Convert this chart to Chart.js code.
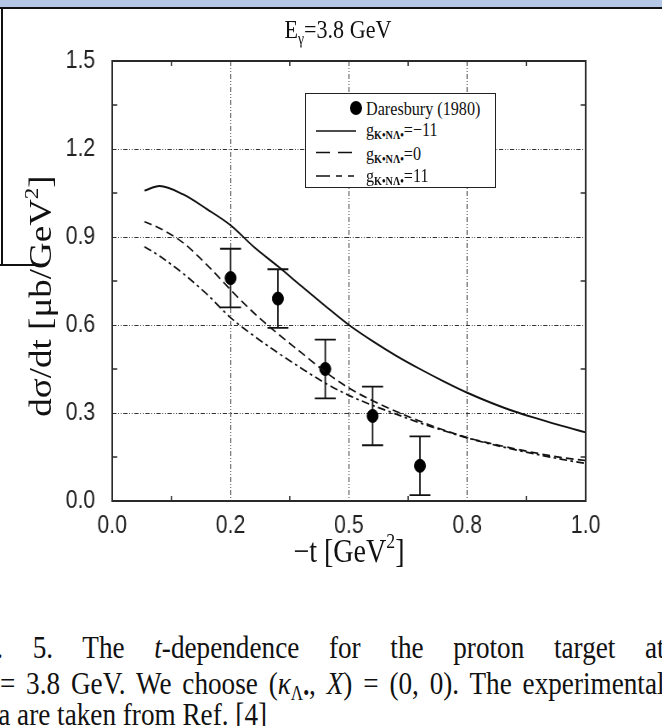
<!DOCTYPE html>
<html>
<head>
<meta charset="utf-8">
<script src="https://cdn.jsdelivr.net/npm/chart.js@4.4.1/dist/chart.umd.min.js"></script>
<style>
  html, body { margin: 0; padding: 0; background: #fff; }
  #page { position: relative; width: 662px; height: 726px; overflow: hidden; background: #fff;
          font-family: "Liberation Serif", "Times New Roman", serif; color: #111; }
  /* the original figure is squeezed horizontally, so the whole canvas is too */
  #chartBox { position: absolute; left: 0; top: 0; width: 662px; height: 590px; overflow: hidden; }
  #xsecChart { transform: scaleX(0.85); transform-origin: 0 0; }
  .abs { position: absolute; white-space: nowrap; }
  .sq { transform: translate(-50%, -50%) scaleX(0.85); }
  #band { position: absolute; left: 0; top: 0; width: 662px; height: 7px; background: #b4c7e7; border-bottom: 2px solid #111; }
  #frameL { position: absolute; left: 1px; top: 8px; width: 2px; height: 257px; background: #111; }
  #frameB { position: absolute; left: 0; top: 264px; width: 42px; height: 2px; background: #111; }
  #legend { position: absolute; left: 305px; top: 93px; width: 191px; height: 95px; border: 1.5px solid #222; background: #fff; box-sizing: border-box; }
  .lg { position: absolute; font-size: 19px; line-height: 19px; white-space: nowrap; transform: scaleX(0.85); transform-origin: 0 50%; }
  .lg sub { font-size: 12px; vertical-align: -3px; font-weight: bold; }
  .cap { position: absolute; font-size: 32px; line-height: 34px; white-space: nowrap; transform: scaleX(0.85); transform-origin: 0 0; }
  .just { text-align: justify; text-align-last: justify; white-space: normal; }
</style>
</head>
<body>
<div id="page">
  <div id="chartBox"><canvas id="xsecChart" width="779" height="590"></canvas></div>

  <div id="band"></div>
  <div id="frameL"></div>
  <div id="frameB"></div>

  <!-- title & axis titles -->
  <div class="abs sq" style="left:338px; top:31px; font-size:26px;">E<sub style="font-size:16px; vertical-align:-6px;">γ</sub>=3.8 GeV</div>
  <div class="abs" style="left:40px; top:296px; font-size:37px; transform: translate(-50%, -50%) scaleX(0.85) rotate(-90deg);">dσ/dt [μb/GeV<sup style="font-size:23px; vertical-align: 15px;">2</sup>]</div>
  <div class="abs sq" style="left:349px; top:549px; font-size:33px;">−t [GeV<sup style="font-size:21px; vertical-align: 14px;">2</sup>]</div>

  <!-- legend -->
  <div id="legend">
    <svg width="191" height="95" style="position:absolute; left:0; top:0;">
      <ellipse cx="50" cy="14" rx="6" ry="7" fill="#000"></ellipse>
      <line x1="10" y1="37" x2="50" y2="37" stroke="#111" stroke-width="1.6"></line>
      <line x1="10" y1="58.5" x2="50" y2="58.5" stroke="#111" stroke-width="1.6" stroke-dasharray="14 8"></line>
      <line x1="10" y1="82" x2="50" y2="82" stroke="#111" stroke-width="1.6" stroke-dasharray="14 6 6 6 6"></line>
    </svg>
    <div class="lg" style="left:60px; top:5px;">Daresbury (1980)</div>
    <div class="lg" style="left:60px; top:26px;">g<sub>K•NΛ•</sub>=−11</div>
    <div class="lg" style="left:60px; top:50px;">g<sub>K•NΛ•</sub>=0</div>
    <div class="lg" style="left:60px; top:72px;">g<sub>K•NΛ•</sub>=11</div>
  </div>

  <!-- caption (cut off at the page edges like the reference) -->
  <div class="cap just" style="left:-40px; top:630px; width:829px;">Fig. 5. The <i>t</i>-dependence for the proton target at</div>
  <div class="cap just" style="left:-35px; top:666px; width:823px;">E<sub style="font-size:20px; vertical-align:-6px;">γ</sub> = 3.8 GeV. We choose (<i>κ</i><sub style="font-size:20px; vertical-align:-6px;">Λ•</sub>, <i>X</i>) = (0, 0). The experimental</div>
  <div class="cap" style="left:-35px; top:697px;">data are taken from Ref. [4]</div>
</div>

<script>
// theory curves: -t [GeV^2] vs dsigma/dt [mub/GeV^2]
const T_CURVE     = [0.068, 0.10, 0.15, 0.20, 0.25, 0.30, 0.35, 0.40, 0.45, 0.50, 0.55, 0.60, 0.65, 0.70, 0.75, 0.80, 0.85, 0.90, 0.95, 1.00];
const SIG_MINUS11 = [1.058, 1.074, 1.045, 0.995, 0.940, 0.865, 0.800, 0.732, 0.665, 0.600, 0.545, 0.495, 0.450, 0.408, 0.369, 0.335, 0.305, 0.280, 0.256, 0.234];
const SIG_ZERO    = [0.952, 0.930, 0.880, 0.805, 0.720, 0.640, 0.570, 0.505, 0.440, 0.385, 0.342, 0.305, 0.272, 0.242, 0.216, 0.196, 0.178, 0.162, 0.148, 0.138];
const SIG_PLUS11  = [0.867, 0.835, 0.775, 0.705, 0.625, 0.562, 0.505, 0.452, 0.402, 0.360, 0.326, 0.296, 0.266, 0.240, 0.215, 0.194, 0.175, 0.158, 0.142, 0.128];

// Daresbury (1980) data
const T_DATA   = [0.25, 0.35, 0.45, 0.55, 0.65];
const SIG_DATA = [0.76, 0.69, 0.45, 0.29, 0.12];
const SIG_ERR  = [0.10, 0.10, 0.10, 0.10, 0.10];

// tick labels (as printed on the original figure)
const X_TICKS = [0, 0.25, 0.5, 0.75, 1.0];
const X_TICK_LABELS = ['0.0', '0.2', '0.5', '0.8', '1.0'];
const Y_TICKS = [0, 0.3, 0.6, 0.9, 1.2, 1.5];
const Y_TICK_LABELS = ['0.0', '0.3', '0.6', '0.9', '1.2', '1.5'];

const SQUEEZE = 0.85;   // horizontal squeeze of the canvas (see css)
const INK = '#111';
const GRID_INK = '#333';

function toPoints(xs, ys) { return xs.map((x, i) => ({ x: x, y: ys[i] })); }

function labelFor(value, ticks, labels) {
    const i = ticks.findIndex(t => Math.abs(t - value) < 1e-6);
    return i >= 0 ? labels[i] : '';
}

// grid only on the inner major ticks
function majorGridColor(ctx) {
    const n = ctx.scale.ticks.length;
    return (ctx.index % 2 === 0 && ctx.index > 0 && ctx.index < n - 1) ? GRID_INK : 'rgba(0,0,0,0)';
}

// frame, inward minor ticks, error bars
const framePlugin = {
    id: 'framePlugin',
    beforeDatasetsDraw(chart) {
        const { ctx, scales: { x, y } } = chart;
        const cap = 10.5 / SQUEEZE;
        ctx.save();
        ctx.strokeStyle = INK;
        ctx.lineWidth = 1.8;
        T_DATA.forEach((t, i) => {
            const px = x.getPixelForValue(t);
            const top = y.getPixelForValue(SIG_DATA[i] + SIG_ERR[i]);
            const bot = y.getPixelForValue(SIG_DATA[i] - SIG_ERR[i]);
            ctx.beginPath();
            ctx.moveTo(px, top); ctx.lineTo(px, bot);
            ctx.moveTo(px - cap, top); ctx.lineTo(px + cap, top);
            ctx.moveTo(px - cap, bot); ctx.lineTo(px + cap, bot);
            ctx.stroke();
        });
        ctx.restore();
    },
    afterDatasetsDraw(chart) {
        const { ctx, chartArea: a, scales: { x, y } } = chart;
        const len = 5;
        ctx.save();
        ctx.strokeStyle = '#2a2a2a';
        ctx.lineWidth = 2;
        ctx.strokeRect(a.left, a.top, a.right - a.left, a.bottom - a.top);
        ctx.lineWidth = 1.5;
        ctx.beginPath();
        x.ticks.forEach((tk, i) => {
            if (i % 2 === 0) return;
            const px = x.getPixelForValue(tk.value);
            ctx.moveTo(px, a.bottom); ctx.lineTo(px, a.bottom - len);
            ctx.moveTo(px, a.top); ctx.lineTo(px, a.top + len);
        });
        y.ticks.forEach((tk, i) => {
            if (i % 2 === 0) return;
            const py = y.getPixelForValue(tk.value);
            ctx.moveTo(a.left, py); ctx.lineTo(a.left + len / SQUEEZE, py);
            ctx.moveTo(a.right, py); ctx.lineTo(a.right - len / SQUEEZE, py);
        });
        ctx.stroke();
        ctx.restore();
    }
};

const tickFont = { family: '"Liberation Sans", Arial, sans-serif', size: 25 };

new Chart(document.getElementById('xsecChart').getContext('2d'), {
    type: 'line',
    data: {
        datasets: [
            { label: 'g=-11', data: toPoints(T_CURVE, SIG_MINUS11), borderColor: INK, borderWidth: 1.9, pointRadius: 0, cubicInterpolationMode: 'monotone' },
            { label: 'g=0', data: toPoints(T_CURVE, SIG_ZERO), borderColor: INK, borderWidth: 1.7, borderDash: [9, 5], pointRadius: 0, cubicInterpolationMode: 'monotone' },
            { label: 'g=11', data: toPoints(T_CURVE, SIG_PLUS11), borderColor: INK, borderWidth: 1.7, borderDash: [9, 4, 3, 4], pointRadius: 0, cubicInterpolationMode: 'monotone' },
            { label: 'Daresbury (1980)', type: 'scatter', data: toPoints(T_DATA, SIG_DATA), backgroundColor: '#000', borderColor: '#000', pointRadius: 6.5, showLine: false }
        ]
    },
    options: {
        responsive: false,
        animation: false,
        layout: { padding: { top: 61, right: 90, left: 0, bottom: 0 } },
        plugins: { legend: { display: false }, tooltip: { enabled: false }, title: { display: false } },
        scales: {
            x: {
                type: 'linear', min: 0, max: 1,
                afterFit: (scale) => { scale.height = 89; },
                ticks: {
                    stepSize: 0.125, autoSkip: false, maxRotation: 0, padding: 10, color: '#222', font: tickFont,
                    callback: (v) => labelFor(v, X_TICKS, X_TICK_LABELS)
                },
                grid: { color: majorGridColor, lineWidth: 1, drawTicks: false },
                border: { display: false, dash: [5, 2, 1, 2, 1, 2] }
            },
            y: {
                type: 'linear', min: 0, max: 1.5,
                afterFit: (scale) => { scale.width = 132; },
                ticks: {
                    stepSize: 0.15, autoSkip: false, padding: 20, color: '#222', font: tickFont,
                    callback: (v) => labelFor(v, Y_TICKS, Y_TICK_LABELS)
                },
                grid: { color: majorGridColor, lineWidth: 1, drawTicks: false },
                border: { display: false, dash: [5, 2, 1, 2, 1, 2] }
            }
        }
    },
    plugins: [framePlugin]
});
</script>
</body>
</html>
